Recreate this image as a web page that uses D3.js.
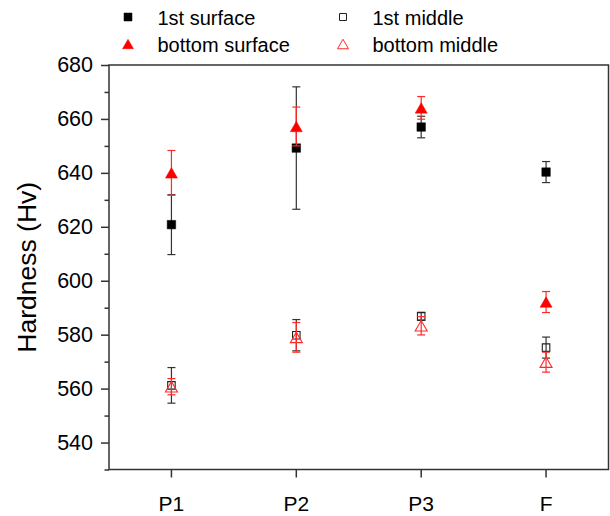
<!DOCTYPE html>
<html>
<head>
<meta charset="utf-8">
<script src="https://cdn.jsdelivr.net/npm/d3@7"></script>
<style>
  body { margin: 0; background: #fff; }
  svg text { font-family: "Liberation Sans", Arial, sans-serif; fill: #000; }
</style>
</head>
<body>
<svg id="hardness"></svg>
<script>
// data
let categories = ["P1", "P2", "P3", "F"];
let surface1 = [620.8, 649.2, 657.0, 640.3];
let surface1Err = [11.1, 22.7, 4.0, 3.9];
let bottomSurface = [640.0, 657.2, 664.1, 592.1];
let bottomSurfaceErr = [8.3, 7.2, 4.2, 3.9];
let middle1 = [561.2, 579.8, 586.8, 575.2];
let middle1Err = [6.6, 5.8, 1.5, 3.9];
let bottomMiddle = [560.7, 579.0, 583.3, 569.8];
let bottomMiddleErr = [3.0, 5.5, 3.4, 3.7];
let yTicks = [540, 560, 580, 600, 620, 640, 660, 680];
let yMinorTicks = [530, 550, 570, 590, 610, 630, 650, 670];

// sizes
let widthSVG = 610;
let heightSVG = 516;
let margins = { top: 65, bottom: 46.5, right: 1.5, left: 109 };
let width = widthSVG - margins.left - margins.right;
let height = heightSVG - margins.top - margins.bottom;

let SVG = d3.select('svg#hardness')
            .attr('width', widthSVG)
            .attr('height', heightSVG);

let SVGG = SVG.append('g')
              .attr('transform', `translate(${margins.left}, ${margins.top})`);

// scales
let x = d3.scaleBand().domain(categories).range([0, width]).padding(0);
let y = d3.scaleLinear().domain([530, 680]).range([height, 0]);
let cx = c => x(c) + x.bandwidth() / 2;

// marker shapes, centred on the point
let squareShape = s => `M${-s/2},${-s/2}h${s}v${s}h${-s}Z`;
let triShape = (w, h) => `M0,${-h/2}L${w/2},${h/2}L${-w/2},${h/2}Z`;

// axes
let axisColor = '#333';
let yAxis = d3.axisLeft(y).tickValues(yTicks).tickSize(8).tickPadding(8);
let yMinor = d3.axisLeft(y).tickValues(yMinorTicks).tickSize(4.5).tickFormat('');
let xAxis = d3.axisBottom(x).tickSize(8).tickPadding(19);

let gy = SVGG.append('g').call(yAxis);
SVGG.append('g').call(yMinor);
let gx = SVGG.append('g').attr('transform', `translate(0, ${height})`).call(xAxis);

SVGG.selectAll('.domain').remove();
SVGG.selectAll('.tick line').style('stroke', axisColor).style('stroke-width', '1.5px');
gy.selectAll('text').style('font-size', '21.5px');
gx.selectAll('text').style('font-size', '21px');

// frame
SVGG.append('rect')
    .attr('width', width)
    .attr('height', height)
    .style('fill', 'none')
    .style('stroke', axisColor)
    .style('stroke-width', '1.5px');

// y title
SVG.append('text')
   .text('Hardness (Hv)')
   .attr('transform', `translate(36, ${margins.top + height / 2}) rotate(-90)`)
   .style('text-anchor', 'middle')
   .style('font-size', '26.5px');

// series
let series = [
  { name: '1st surface', vals: surface1, errs: surface1Err, shape: 'sq', fill: '#000', stroke: '#000', err: '#333' },
  { name: 'bottom surface', vals: bottomSurface, errs: bottomSurfaceErr, shape: 'tri', fill: '#ff0000', stroke: '#ff0000', err: '#ff2a2a' },
  { name: '1st middle', vals: middle1, errs: middle1Err, shape: 'sq', fill: 'none', stroke: '#222', err: '#333' },
  { name: 'bottom middle', vals: bottomMiddle, errs: bottomMiddleErr, shape: 'tri', fill: 'none', stroke: '#ff2a2a', err: '#ff2a2a' }
];

let capW = 8;
series.forEach(s => {
  let rows = categories.map((c, i) => ({ c: c, v: s.vals[i], e: s.errs[i] }));
  let g = SVGG.append('g').attr('class', 'series');

  let eb = g.selectAll('g.err').data(rows).enter().append('g').attr('class', 'err')
            .style('stroke', s.err).style('stroke-width', '1.2px');
  eb.append('line')
    .attr('x1', d => cx(d.c)).attr('x2', d => cx(d.c))
    .attr('y1', d => y(d.v + d.e)).attr('y2', d => y(d.v - d.e));
  eb.append('line')
    .attr('x1', d => cx(d.c) - capW / 2).attr('x2', d => cx(d.c) + capW / 2)
    .attr('y1', d => y(d.v + d.e)).attr('y2', d => y(d.v + d.e));
  eb.append('line')
    .attr('x1', d => cx(d.c) - capW / 2).attr('x2', d => cx(d.c) + capW / 2)
    .attr('y1', d => y(d.v - d.e)).attr('y2', d => y(d.v - d.e));

  g.selectAll('path.mark').data(rows).enter().append('path')
    .attr('class', 'mark')
    .attr('d', s.shape === 'sq' ? squareShape(s.fill === 'none' ? 7.5 : 8.5) : triShape(12, 10.5))
    .attr('transform', d => `translate(${cx(d.c)}, ${y(d.v)})`)
    .style('fill', s.fill === 'none' ? '#fff' : s.fill)
    .style('fill-opacity', s.fill === 'none' ? 0 : 1)
    .style('stroke', s.stroke)
    .style('stroke-width', s.fill === 'none' ? '1.1px' : '0.5px');
});

// legend
let legendPos = [[128, 17], [128, 44], [343, 17], [343, 44]];
let legend = SVG.selectAll('g.legendItem').data(series).enter().append('g')
   .attr('class', 'legendItem')
   .attr('transform', (d, i) => `translate(${legendPos[i][0]}, ${legendPos[i][1]})`);

legend.append('path')
   .attr('d', d => d.shape === 'sq' ? squareShape(d.fill === 'none' ? 7 : 8) : triShape(11, 9.5))
   .style('fill', d => d.fill === 'none' ? '#fff' : d.fill)
   .style('fill-opacity', d => d.fill === 'none' ? 0 : 1)
   .style('stroke', d => d.stroke)
   .style('stroke-width', d => d.fill === 'none' ? '1px' : '0.5px');

legend.append('text')
   .text(d => d.name)
   .attr('x', 29.5)
   .attr('y', 7.5)
   .style('font-size', '20px');
</script>
</body>
</html>
